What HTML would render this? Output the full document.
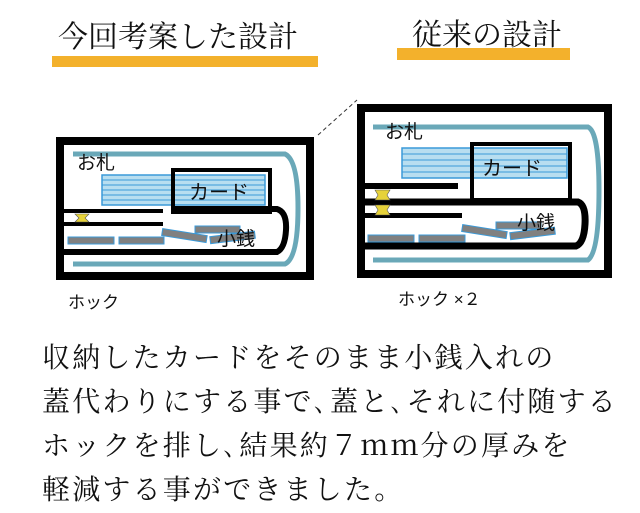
<!DOCTYPE html>
<html><head><meta charset="utf-8"><style>
html,body{margin:0;padding:0;background:#fff;}
body{width:640px;height:512px;overflow:hidden;position:relative;}
.t{position:absolute;font-family:"Liberation Serif","Noto Serif CJK SC",serif;color:#111;white-space:nowrap;}
</style></head><body>
<svg width="640" height="512" style="position:absolute;left:0;top:0" font-family="Liberation Sans, Noto Sans CJK JP, sans-serif">
<rect x="52" y="56" width="266" height="11" fill="#f3b12c"/>
<rect x="397" y="48" width="173" height="12" fill="#f3b12c"/>
<text x="58" y="47" font-family="Liberation Serif, Noto Serif CJK SC, serif" font-size="30" fill="#111">今回考案した設計</text>
<text x="412" y="45" font-family="Liberation Serif, Noto Serif CJK SC, serif" font-size="30" fill="#111">従来の設計</text>

<!-- LEFT DIAGRAM -->
<rect x="60" y="141" width="250" height="135" fill="none" stroke="#000" stroke-width="8"/>
<path d="M73 154 H285 Q298 160 298 208 Q298 258 285 264 H73" fill="none" stroke="#6aa8b8" stroke-width="5"/>
<rect x="102" y="175" width="163" height="30" fill="#b8def0" stroke="#3a9ad9" stroke-width="1.5"/>
<path d="M102 180H265M102 185H265M102 190H265M102 195H265M102 200H265" stroke="#3a9ad9" stroke-width="1"/>
<rect x="173" y="170" width="97" height="42" fill="none" stroke="#000" stroke-width="4"/>
<rect x="56" y="209" width="107" height="4" fill="#000"/>
<rect x="56" y="222" width="107" height="4" fill="#000"/>
<path d="M171 209 H277 Q287 212 286 230 Q285 248 277 252 H64" fill="none" stroke="#000" stroke-width="6"/>
<path d="M75 214 h14 l-4 4 l4 4 h-14 l4 -4z" fill="#e6d23a" stroke="#555" stroke-width="0.6"/>
<rect x="68" y="237" width="46" height="7" fill="#808080" stroke="#3a9ad9" stroke-width="1"/>
<rect x="119" y="237" width="45" height="7" fill="#808080" stroke="#3a9ad9" stroke-width="1"/>
<rect x="195" y="226" width="45" height="7" fill="#808080" stroke="#3a9ad9" stroke-width="1"/>
<rect x="162" y="232" width="45" height="7" fill="#808080" stroke="#3a9ad9" stroke-width="1" transform="rotate(9 184 235)"/>
<rect x="210" y="234" width="45" height="7" fill="#808080" stroke="#3a9ad9" stroke-width="1" transform="rotate(-7 232 237)"/>
<text x="77" y="169" font-size="19" fill="#111">お札</text>
<text x="189" y="199" font-size="20" fill="#111">カード</text>
<text x="217" y="245" font-size="19" fill="#111">小銭</text>
<text x="68" y="308" font-size="17" fill="#111">ホック</text>

<path d="M318 135 L357 100" stroke="#333" stroke-width="1" stroke-dasharray="4,3"/>

<!-- RIGHT DIAGRAM -->
<rect x="361" y="108" width="247" height="166" fill="none" stroke="#000" stroke-width="8"/>
<path d="M373 127 H588 Q599 132 599 190 Q599 252 588 260 H373" fill="none" stroke="#6aa8b8" stroke-width="5"/>
<rect x="402" y="148" width="165" height="30" fill="#b8def0" stroke="#3a9ad9" stroke-width="1.5"/>
<path d="M402 154H567M402 160H567M402 166H567M402 172H567" stroke="#3a9ad9" stroke-width="1"/>
<rect x="472" y="144" width="98" height="56" fill="none" stroke="#000" stroke-width="4"/>
<rect x="357" y="183" width="101" height="6" fill="#000"/>
<path d="M357 202 H578 Q586 205 585 224 Q584 243 576 246 H364" fill="none" stroke="#000" stroke-width="7"/>
<rect x="357" y="213" width="105" height="5" fill="#000"/>
<path d="M375 190 h15 l-3 5 l3 5 h-15 l3 -5z" fill="#e6d23a" stroke="#555" stroke-width="0.6"/>
<path d="M375 205 h15 l-3 5 l3 5 h-15 l3 -5z" fill="#e6d23a" stroke="#555" stroke-width="0.6"/>
<rect x="368" y="235" width="46" height="7" fill="#808080" stroke="#3a9ad9" stroke-width="1"/>
<rect x="419" y="235" width="46" height="7" fill="#808080" stroke="#3a9ad9" stroke-width="1"/>
<rect x="496" y="222" width="45" height="7" fill="#808080" stroke="#3a9ad9" stroke-width="1"/>
<rect x="462" y="228" width="45" height="7" fill="#808080" stroke="#3a9ad9" stroke-width="1" transform="rotate(9 484 231)"/>
<rect x="510" y="230" width="45" height="7" fill="#808080" stroke="#3a9ad9" stroke-width="1" transform="rotate(-7 532 233)"/>
<text x="385" y="138" font-size="19" fill="#111">お札</text>
<text x="482" y="175" font-size="20" fill="#111">カード</text>
<text x="517" y="229" font-size="19" fill="#111">小銭</text>
<text x="398" y="305" font-size="17" fill="#111">ホック ×２</text>
</svg>
<div class="t" style="left:42px;top:337px;font-size:28px;line-height:44px;letter-spacing:2.2px;">収納したカードをそのまま小銭入れの<br>蓋代わりにする事で､蓋と､それに付随する<br>ホックを排し､結果約７ｍｍ分の厚みを<br>軽減する事ができました。</div>
</body></html>
